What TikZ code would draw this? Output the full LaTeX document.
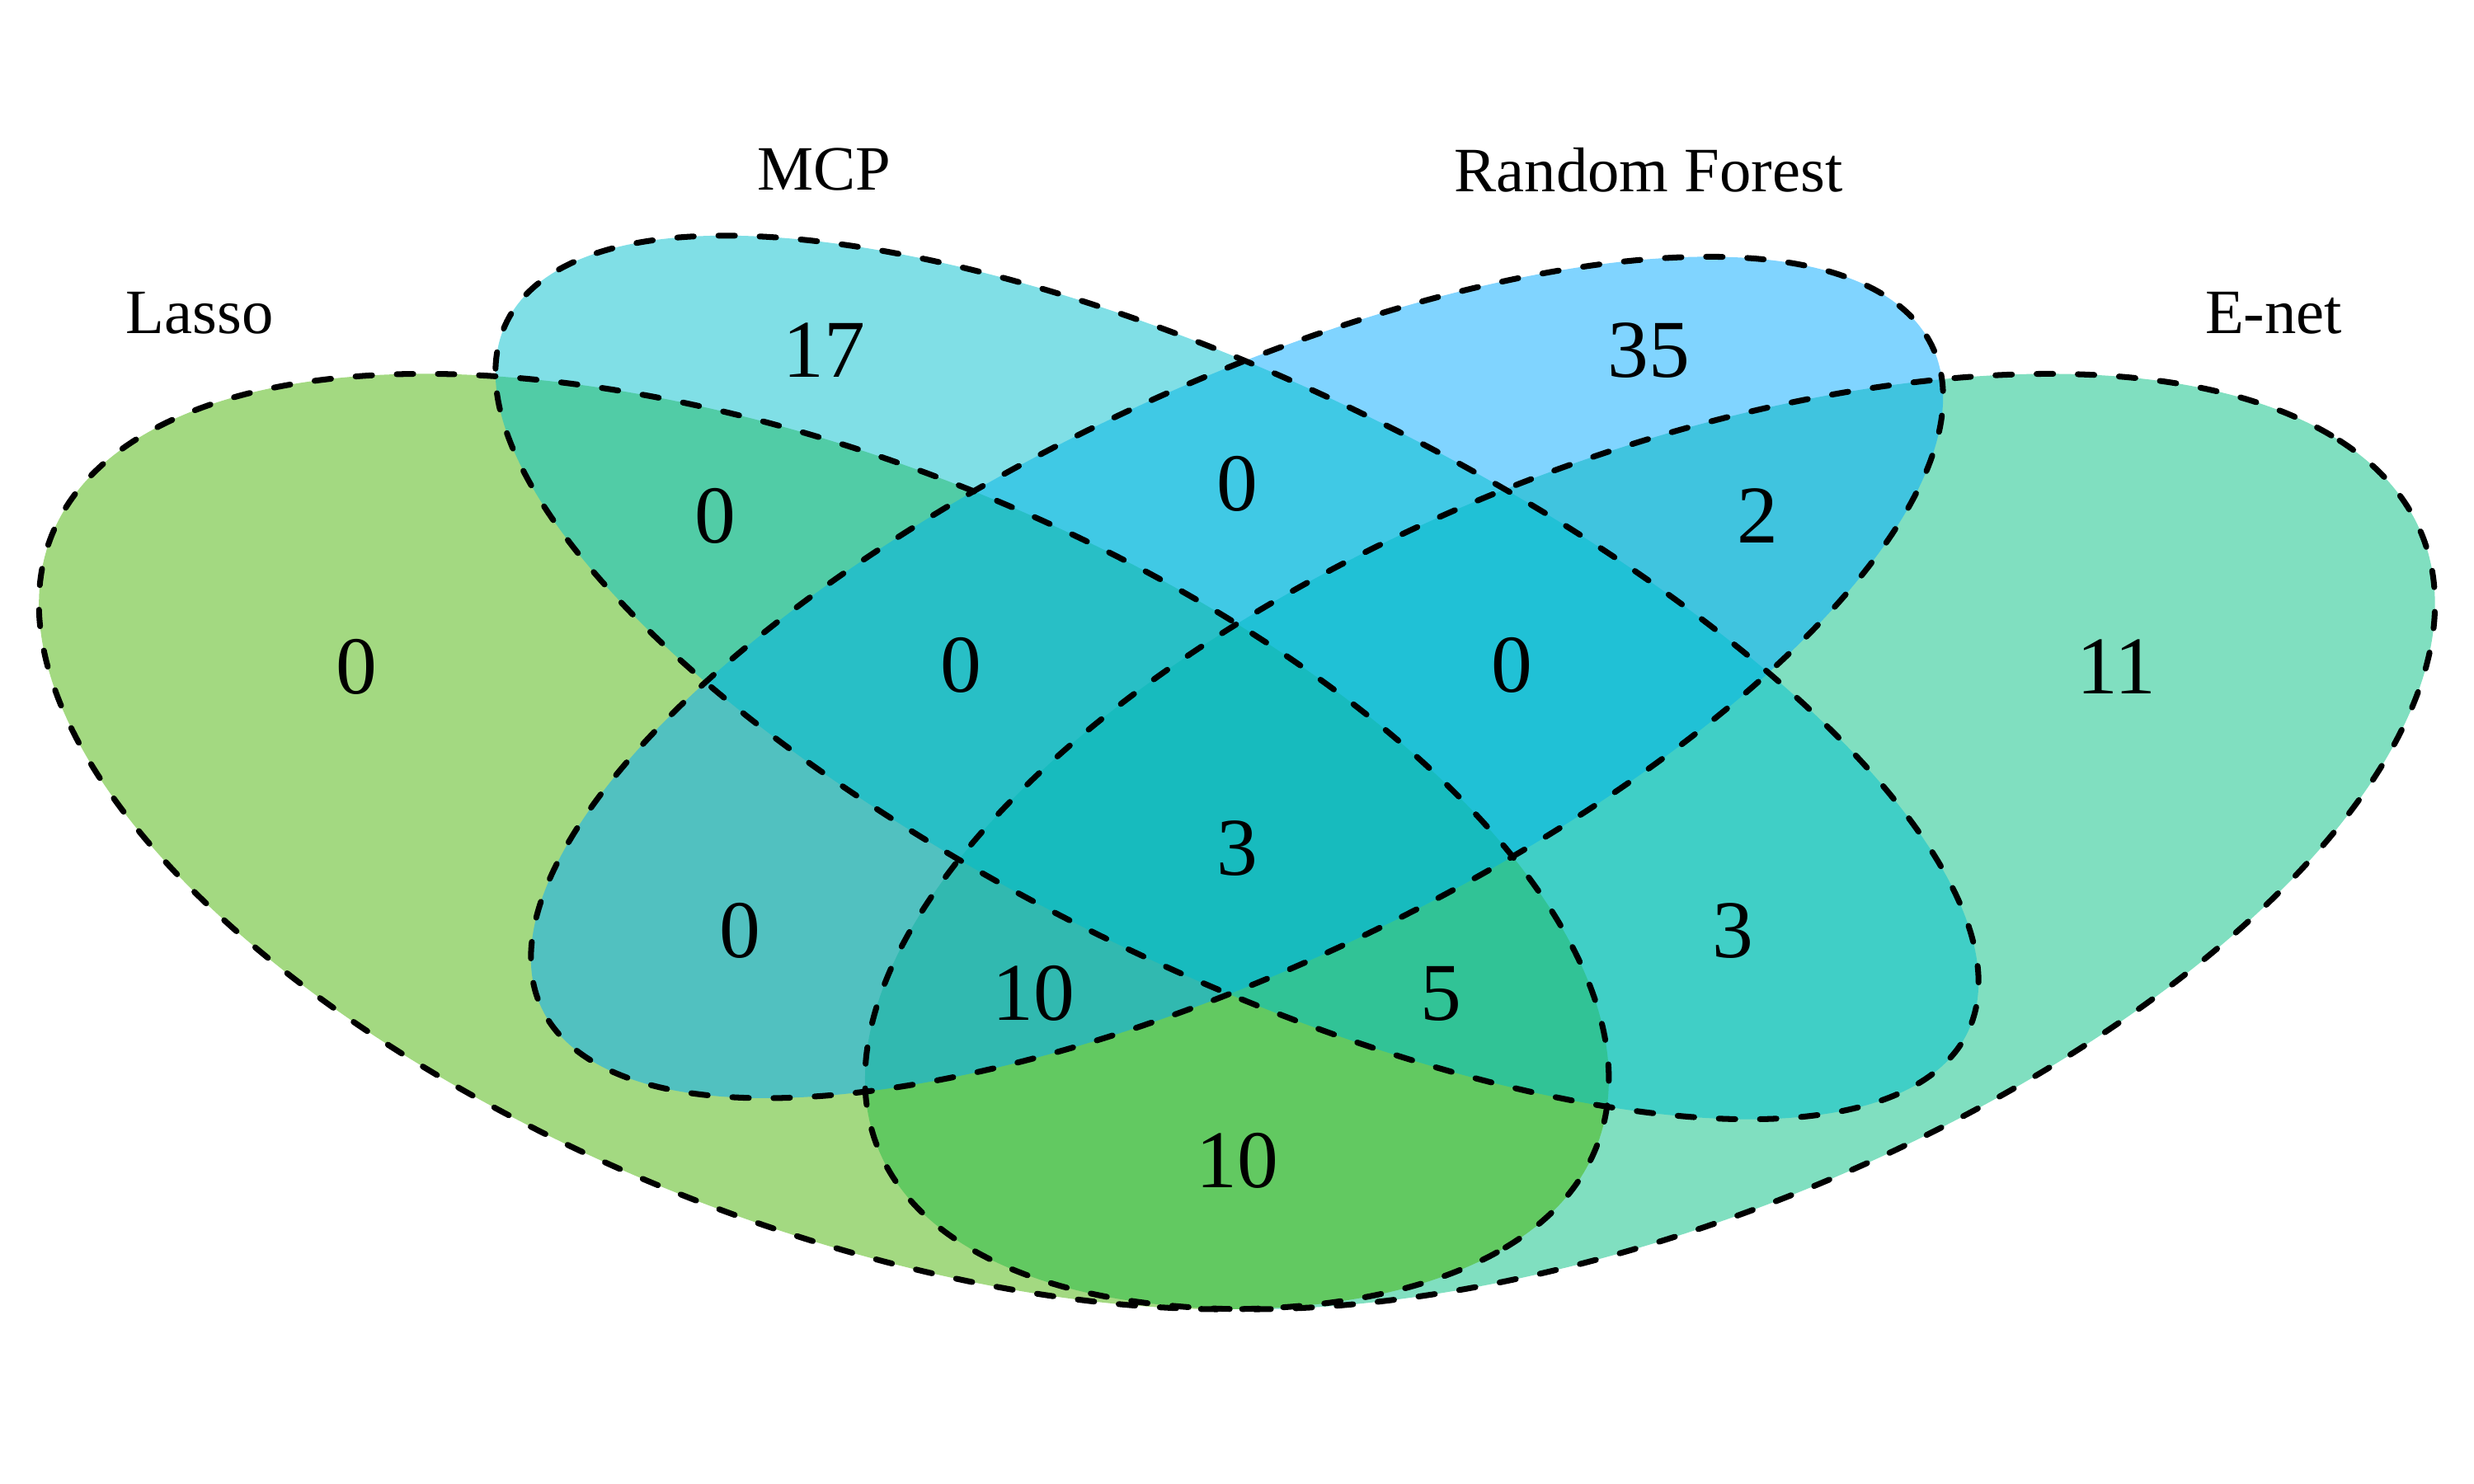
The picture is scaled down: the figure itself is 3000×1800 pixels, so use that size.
\documentclass[tikz,border=0pt]{standalone}
\usepackage{fontspec}
\setmainfont{Liberation Serif}
\definecolor{cL}{RGB}{71,179,3}
\definecolor{cM}{RGB}{1,191,205}
\definecolor{cR}{RGB}{1,169,255}
\definecolor{cE}{RGB}{1,191,129}
\begin{document}
\begin{tikzpicture}[x=0.01cm,y=0.01cm,
  setfill/.style={fill=#1, fill opacity=0.5},
  setline/.style={draw=black, line width=2pt, line cap=round, dash pattern=on 5.7pt off 8.5pt},
  num/.style={font=\fontsize{28.3}{34}\selectfont, inner sep=0pt},
  lab/.style={font=\fontsize{21.8}{26}\selectfont, inner sep=0pt}]
\useasboundingbox (0,0) rectangle (3000,1800);
\begin{scope}[shift={(-169.5,-155.95)}, xscale=3339, yscale=1990]
  % fills (bottom to top)
  \fill[setfill=cE, shift={(0.65,0.47)}, rotate=45] (0,0) ellipse [x radius=0.35, y radius=0.2];
  \fill[setfill=cL, shift={(0.35,0.47)}, rotate=-45] (0,0) ellipse [x radius=0.35, y radius=0.2];
  \fill[setfill=cR, shift={(0.5,0.57)}, rotate=45] (0,0) ellipse [x radius=0.331, y radius=0.148];
  \fill[setfill=cM, shift={(0.5,0.57)}, rotate=-45] (0,0) ellipse [x radius=0.35, y radius=0.15];
  % outlines
  \draw[setline, shift={(0.65,0.47)}, rotate=45] (0,0) ellipse [x radius=0.35, y radius=0.2];
  \draw[setline, shift={(0.35,0.47)}, rotate=-45] (0,0) ellipse [x radius=0.35, y radius=0.2];
  \draw[setline, shift={(0.5,0.57)}, rotate=45] (0,0) ellipse [x radius=0.331, y radius=0.148];
  \draw[setline, shift={(0.5,0.57)}, rotate=-45] (0,0) ellipse [x radius=0.35, y radius=0.15];
\end{scope}
% set labels
\node[lab] (labL) at (242,1420) {Lasso};
\node[lab] (labM) at (999,1594) {MCP};
\node[lab] (labR) at (1999,1594) {Random Forest};
\node[lab] (labE) at (2757,1420) {E-net};
% region counts
\node[num] (nL)    at (432,991)  {0};
\node[num] (nM)    at (999,1375) {17};
\node[num] (nR)    at (1999,1375) {35};
\node[num] (nE)    at (2566,991) {11};
\node[num] (nLM)   at (867,1174) {0};
\node[num] (nMR)   at (1500,1213) {0};
\node[num] (nRE)   at (2131,1174) {2};
\node[num] (nLMR)  at (1165,993) {0};
\node[num] (nMRE)  at (1833,993) {0};
\node[num] (nLMRE) at (1500,771) {3};
\node[num] (nLR)   at (897,671)  {0};
\node[num] (nME)   at (2101,671) {3};
\node[num] (nLRE)  at (1253,595) {10};
\node[num] (nLME)  at (1747,595) {5};
\node[num] (nLE)   at (1500,392) {10};
\end{tikzpicture}
\end{document}
